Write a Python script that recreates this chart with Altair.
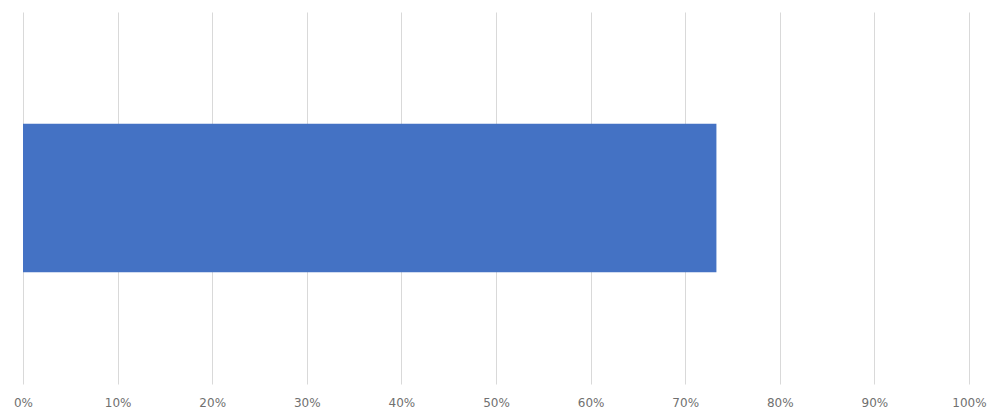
import altair as alt
import pandas as pd

categories = ["Series 1"]
values = [0.733]

df = pd.DataFrame({"category": categories, "value": values})

chart = alt.Chart(df).mark_bar(color="#4472C4").encode(
    x=alt.X("value:Q",
            scale=alt.Scale(domain=[0, 1], nice=False),
            axis=alt.Axis(format="%", values=[i / 10 for i in range(11)],
                          grid=True, gridColor="#d9d9d9", gridWidth=1,
                          domain=False, ticks=False, labelPadding=13,
                          labelFlush=False, labelBound=False,
                          labelFont="DejaVu Sans", labelFontSize=12,
                          labelColor="#707070", title=None)),
    y=alt.Y("category:N", scale=alt.Scale(paddingInner=0.43, paddingOuter=0.43), axis=None),
).properties(
    width=946, height=372,
    background="white",
    autosize=alt.AutoSizeParams(type="none"),
    padding={"left": 15, "top": 4, "right": 23, "bottom": 25},
).configure_view(strokeWidth=0, stroke="transparent")

chart.save("out.html", embed_options={"renderer": "svg", "actions": False})
